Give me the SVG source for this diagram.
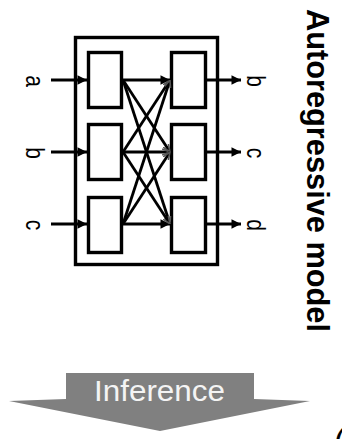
<svg xmlns="http://www.w3.org/2000/svg" width="342" height="439" viewBox="0 0 342 439">
<style>
.box{fill:#fff;stroke:#000;stroke-width:3.4}
.ln{stroke:#000;stroke-width:2.8;fill:none}
.lbl{font-family:"Liberation Sans",Arial,sans-serif;font-size:21px;fill:#000;text-anchor:middle}
.title{font-family:"Liberation Sans",Arial,sans-serif;font-size:31px;font-weight:bold;fill:#000}
.inf{font-family:"Liberation Sans",Arial,sans-serif;font-size:29px;fill:#f4f4f4}
</style>
<defs>
<marker id="ah" viewBox="0 0 10 10" refX="10" refY="5" markerWidth="3.4" markerHeight="3.4" markerUnits="strokeWidth" orient="auto">
<path d="M0,0 L10,5 L0,10 z" fill="#000"/>
</marker>
<marker id="ahs" viewBox="0 0 10 10" refX="10" refY="5" markerWidth="2.8" markerHeight="2.8" markerUnits="strokeWidth" orient="auto">
<path d="M0,1 L10,5 L0,9" fill="none" stroke="#555" stroke-width="2"/>
</marker>
</defs>
<rect width="342" height="439" fill="#fff"/>
<g id="model">
<rect class="box" x="75.5" y="37.5" width="142" height="227"/>
</g>
<g id="in1"><rect class="box" x="88.5" y="52.5" width="33" height="55"/></g>
<g id="in2"><rect class="box" x="88.5" y="124.5" width="33" height="55"/></g>
<g id="in3"><rect class="box" x="88.5" y="197.5" width="33" height="55"/></g>
<g id="out1"><rect class="box" x="171.5" y="52.5" width="34" height="55"/></g>
<g id="out2"><rect class="box" x="171.5" y="124.5" width="34" height="55"/></g>
<g id="out3"><rect class="box" x="171.5" y="197.5" width="34" height="55"/></g>
<g id="connectors">
<line class="ln" x1="51" y1="80" x2="87" y2="80" marker-end="url(#ah)"/>
<line class="ln" x1="51" y1="152" x2="87" y2="152" marker-end="url(#ah)"/>
<line class="ln" x1="51" y1="224" x2="87" y2="224" marker-end="url(#ah)"/>
<line class="ln" x1="207" y1="80" x2="241" y2="80" marker-end="url(#ah)"/>
<line class="ln" x1="207" y1="152" x2="241" y2="152" marker-end="url(#ah)"/>
<line class="ln" x1="207" y1="224" x2="241" y2="224" marker-end="url(#ah)"/>
<line class="ln" x1="123" y1="80" x2="170" y2="80" marker-end="url(#ah)"/>
<line class="ln" x1="123" y1="152" x2="170" y2="152" marker-end="url(#ahs)"/>
<line class="ln" x1="123" y1="224" x2="170" y2="224" marker-end="url(#ah)"/>
<line class="ln" x1="123" y1="80" x2="170" y2="152" marker-end="url(#ahs)"/>
<line class="ln" x1="123" y1="80" x2="170" y2="224" marker-end="url(#ahs)"/>
<line class="ln" x1="123" y1="152" x2="170" y2="80" marker-end="url(#ahs)"/>
<line class="ln" x1="123" y1="152" x2="170" y2="224" marker-end="url(#ahs)"/>
<line class="ln" x1="123" y1="224" x2="170" y2="80" marker-end="url(#ahs)"/>
<line class="ln" x1="123" y1="224" x2="170" y2="152" marker-end="url(#ahs)"/>
</g>
<g id="labels">
<text class="lbl" transform="translate(26,81) rotate(90) scale(1,1.2)">a</text>
<text class="lbl" transform="translate(26,153) rotate(90) scale(1,1.2)">b</text>
<text class="lbl" transform="translate(26,225) rotate(90) scale(1,1.2)">c</text>
<text class="lbl" transform="translate(247,81) rotate(90) scale(1,1.2)">b</text>
<text class="lbl" transform="translate(247,153) rotate(90) scale(1,1.2)">c</text>
<text class="lbl" transform="translate(247,225) rotate(90) scale(1,1.2)">d</text>
</g>
<g id="title">
<text class="title" transform="translate(307,9) rotate(90)" textLength="323" lengthAdjust="spacingAndGlyphs">Autoregressive model</text>
</g>
<g id="inference">
<path d="M66,373 L254,373 L254,399 L310,401 L160,431 L9,401 L66,399 Z" fill="#808080"/>
<text class="inf" x="94" y="401" textLength="131" lengthAdjust="spacingAndGlyphs">Inference</text>
</g>
<g id="fragment">
<text x="334" y="452" font-family="Liberation Sans,Arial,sans-serif" font-size="34" fill="#000">(</text>
</g>
</svg>
